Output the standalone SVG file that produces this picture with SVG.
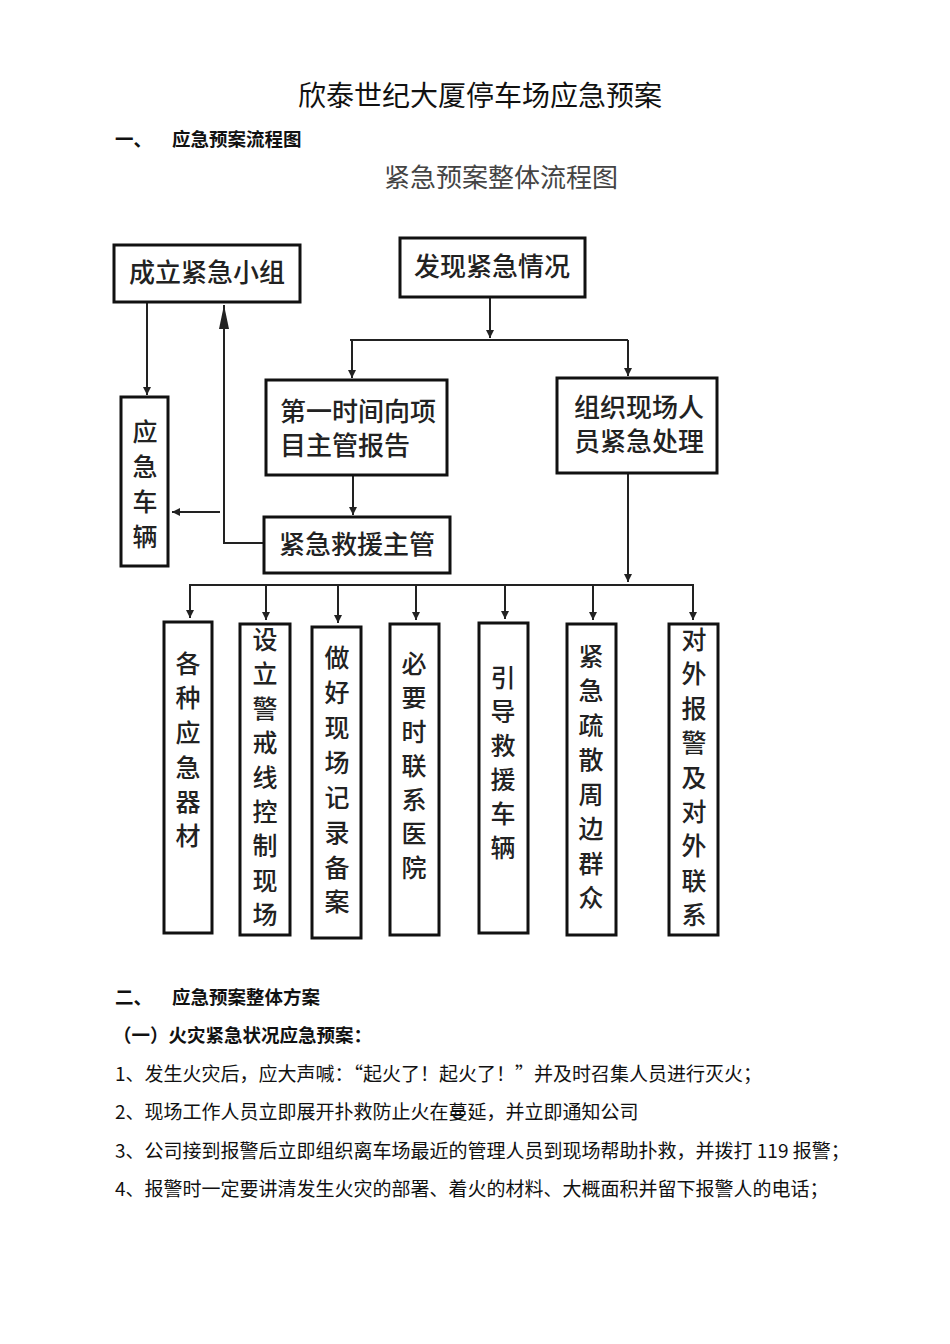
<svg xmlns="http://www.w3.org/2000/svg" width="950" height="1344" viewBox="0 0 950 1344">
<style>
.t{font-family:"Noto Sans CJK SC","Noto Sans",sans-serif;fill:#111}
.b{font-weight:bold}
.box{fill:#fff;stroke:#111;stroke-width:3}
.bt{font-family:"Noto Sans CJK SC",sans-serif;font-size:26px;fill:#222;font-weight:500}
.vt{font-family:"Noto Sans CJK SC",sans-serif;font-size:25px;fill:#222;font-weight:500;text-anchor:middle}
.ln{fill:none;stroke:#222;stroke-width:2}
.body{font-family:"Noto Sans CJK SC",sans-serif;font-size:19px;fill:#111}
</style>
<defs>
<marker id="ah" viewBox="0 0 10 10" refX="10" refY="5" markerWidth="8" markerHeight="8" markerUnits="userSpaceOnUse" orient="auto"><path d="M0,0 L10,5 L0,10 z" fill="#222"/></marker>
<marker id="ahl" viewBox="0 0 24 10" refX="24" refY="5" markerWidth="24" markerHeight="10" markerUnits="userSpaceOnUse" orient="auto"><path d="M0,0 L24,5 L0,10 z" fill="#222"/></marker>
</defs>
<rect width="950" height="1344" fill="#fff"/>

<text class="t" x="480" y="106" font-size="28" text-anchor="middle">欣泰世纪大厦停车场应急预案</text>
<text class="t b" x="115" y="146" font-size="18.5">一、</text>
<text class="t b" x="172" y="146" font-size="18.5">应急预案流程图</text>
<text class="t" x="501" y="187" font-size="26" text-anchor="middle" style="fill:#444">紧急预案整体流程图</text>

<g id="connectors">
<line class="ln" x1="147" y1="303" x2="147" y2="395" marker-end="url(#ah)"/>
<polyline class="ln" points="264,543 224,543 224,305" marker-end="url(#ahl)"/>
<line class="ln" x1="220" y1="512" x2="172" y2="512" marker-end="url(#ah)"/>
<line class="ln" x1="490" y1="297" x2="490" y2="338" marker-end="url(#ah)"/>
<line class="ln" x1="350" y1="340" x2="628" y2="340"/>
<line class="ln" x1="352" y1="340" x2="352" y2="378" marker-end="url(#ah)"/>
<line class="ln" x1="628" y1="340" x2="628" y2="376" marker-end="url(#ah)"/>
<line class="ln" x1="353" y1="475" x2="353" y2="515" marker-end="url(#ah)"/>
<line class="ln" x1="628" y1="473" x2="628" y2="582" marker-end="url(#ah)"/>
<line class="ln" x1="189" y1="585" x2="694" y2="585"/>
<line class="ln" x1="190" y1="585" x2="190" y2="618" marker-end="url(#ah)"/>
<line class="ln" x1="266" y1="585" x2="266" y2="620" marker-end="url(#ah)"/>
<line class="ln" x1="338" y1="585" x2="338" y2="623" marker-end="url(#ah)"/>
<line class="ln" x1="416" y1="585" x2="416" y2="620" marker-end="url(#ah)"/>
<line class="ln" x1="505" y1="585" x2="505" y2="619" marker-end="url(#ah)"/>
<line class="ln" x1="593" y1="585" x2="593" y2="620" marker-end="url(#ah)"/>
<line class="ln" x1="693" y1="585" x2="693" y2="620" marker-end="url(#ah)"/>
</g>

<g id="n-chengli"><rect class="box" x="114" y="245" width="186" height="57"/><text class="bt" x="207" y="282" text-anchor="middle">成立紧急小组</text></g>
<g id="n-faxian"><rect class="box" x="400" y="238" width="185" height="59"/><text class="bt" x="492" y="276" text-anchor="middle">发现紧急情况</text></g>
<g id="n-diyi"><rect class="box" x="266" y="380" width="181" height="95"/><text class="bt" x="280" y="421">第一时间向项</text><text class="bt" x="280" y="455">目主管报告</text></g>
<g id="n-zuzhi"><rect class="box" x="557" y="378" width="160" height="95"/><text class="bt" x="574" y="417">组织现场人</text><text class="bt" x="574" y="451">员紧急处理</text></g>
<g id="n-cheliang"><rect class="box" x="121" y="397" width="47" height="169"/>
<text class="vt"><tspan x="145" y="441">应</tspan><tspan x="145" y="476">急</tspan><tspan x="145" y="511">车</tspan><tspan x="145" y="546">辆</tspan></text></g>
<g id="n-jiuyuan"><rect class="box" x="264" y="517" width="186" height="56"/><text class="bt" x="357" y="554" text-anchor="middle">紧急救援主管</text></g>

<g id="n-b1"><rect class="box" x="164" y="622" width="48" height="311"/>
<text class="vt"><tspan x="188" y="673">各</tspan><tspan x="188" y="707">种</tspan><tspan x="188" y="742">应</tspan><tspan x="188" y="777">急</tspan><tspan x="188" y="811">器</tspan><tspan x="188" y="845">材</tspan></text></g>
<g id="n-b2"><rect class="box" x="240" y="624" width="50" height="311"/>
<text class="vt"><tspan x="265" y="649">设</tspan><tspan x="265" y="683">立</tspan><tspan x="265" y="718">警</tspan><tspan x="265" y="752">戒</tspan><tspan x="265" y="787">线</tspan><tspan x="265" y="821">控</tspan><tspan x="265" y="855">制</tspan><tspan x="265" y="890">现</tspan><tspan x="265" y="924">场</tspan></text></g>
<g id="n-b3"><rect class="box" x="312" y="627" width="49" height="311"/>
<text class="vt"><tspan x="337" y="667">做</tspan><tspan x="337" y="702">好</tspan><tspan x="337" y="737">现</tspan><tspan x="337" y="772">场</tspan><tspan x="337" y="807">记</tspan><tspan x="337" y="842">录</tspan><tspan x="337" y="877">备</tspan><tspan x="337" y="911">案</tspan></text></g>
<g id="n-b4"><rect class="box" x="390" y="624" width="49" height="311"/>
<text class="vt"><tspan x="414" y="673">必</tspan><tspan x="414" y="707">要</tspan><tspan x="414" y="741">时</tspan><tspan x="414" y="775">联</tspan><tspan x="414" y="809">系</tspan><tspan x="414" y="843">医</tspan><tspan x="414" y="877">院</tspan></text></g>
<g id="n-b5"><rect class="box" x="479" y="623" width="49" height="310"/>
<text class="vt"><tspan x="503" y="687">引</tspan><tspan x="503" y="721">导</tspan><tspan x="503" y="755">救</tspan><tspan x="503" y="789">援</tspan><tspan x="503" y="823">车</tspan><tspan x="503" y="857">辆</tspan></text></g>
<g id="n-b6"><rect class="box" x="567" y="624" width="49" height="311"/>
<text class="vt"><tspan x="591" y="666">紧</tspan><tspan x="591" y="700">急</tspan><tspan x="591" y="735">疏</tspan><tspan x="591" y="769">散</tspan><tspan x="591" y="804">周</tspan><tspan x="591" y="838">边</tspan><tspan x="591" y="873">群</tspan><tspan x="591" y="907">众</tspan></text></g>
<g id="n-b7"><rect class="box" x="669" y="624" width="49" height="311"/>
<text class="vt"><tspan x="694" y="649">对</tspan><tspan x="694" y="683">外</tspan><tspan x="694" y="718">报</tspan><tspan x="694" y="752">警</tspan><tspan x="694" y="787">及</tspan><tspan x="694" y="821">对</tspan><tspan x="694" y="855">外</tspan><tspan x="694" y="890">联</tspan><tspan x="694" y="924">系</tspan></text></g>

<text class="t b" x="115" y="1004" font-size="18.5">二、</text>
<text class="t b" x="172" y="1004" font-size="18.5">应急预案整体方案</text>
<text class="t b" x="113" y="1042" font-size="18.5">（一）火灾紧急状况应急预案：</text>
<text class="body" x="115" y="1081">1、发生火灾后，应大声喊：“起火了！起火了！”并及时召集人员进行灭火；</text>
<text class="body" x="115" y="1119">2、现场工作人员立即展开扑救防止火在蔓延，并立即通知公司</text>
<text class="body" x="115" y="1158">3、公司接到报警后立即组织离车场最近的管理人员到现场帮助扑救，并拨打 119 报警；</text>
<text class="body" x="115" y="1196">4、报警时一定要讲清发生火灾的部署、着火的材料、大概面积并留下报警人的电话；</text>
</svg>
